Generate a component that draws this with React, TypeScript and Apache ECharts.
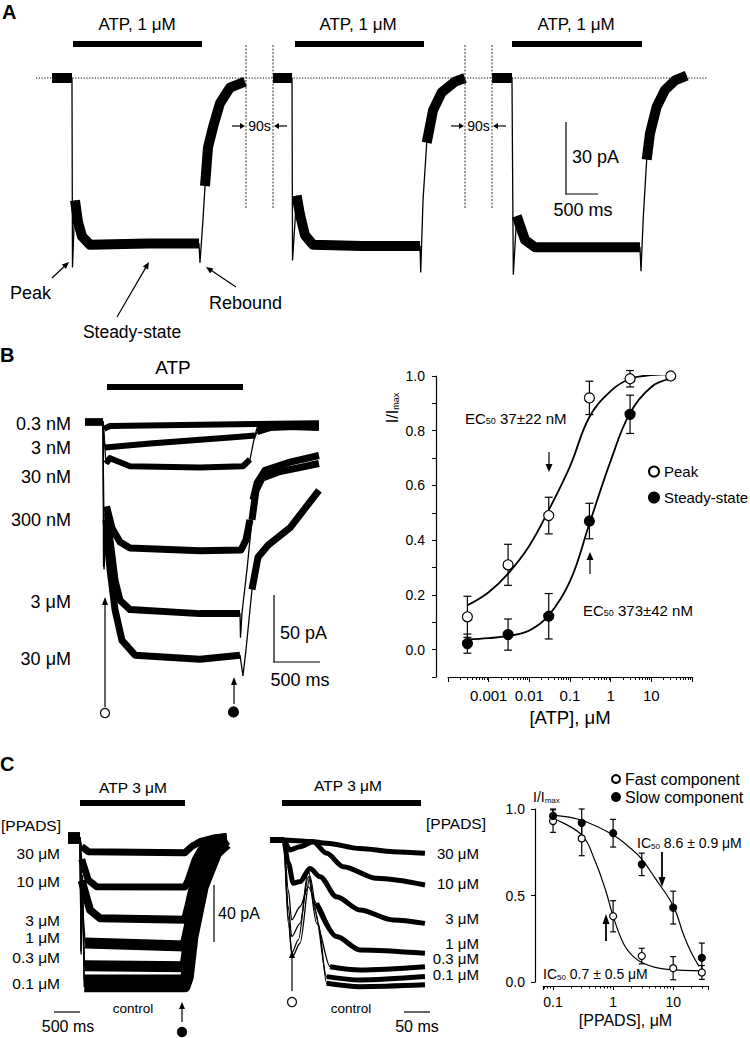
import React, { useEffect, useRef } from 'react';
import * as echarts from 'echarts';

const FF = '"Liberation Sans", Arial, Helvetica, sans-serif';

// ---------- Panel A: three responses to ATP 1 µM  [time ms, current pA, noisy segment flag]
const traceA1 = [[0,0,1],[312,0,0],[320,-79,0],[359,-51,1],[406,-60,1],[469,-66,1],[594,-69.5,1],[1500,-69,1],[2297,-69,0],[2312,-77,0],[2359,-59,0],[2391,-45,1],[2437,-29,1],[2516,-20.5,1],[2625,-10.5,1],[2781,-4,1],[3016,-1.5,0]];
const traceA2 = [[0,0,1],[297,0,0],[305,-76,0],[370,-49,1],[422,-57,1],[500,-65.5,1],[625,-69.5,1],[1400,-70,1],[2297,-70,0],[2308,-81,0],[2344,-51,0],[2402,-27,1],[2500,-13.5,1],[2636,-6,1],[2844,-1.5,1],[3000,0,0]];
const traceA3 = [[0,0,1],[312,0,0],[333,-82,0],[386,-57.5,1],[516,-67.5,1],[672,-70.5,1],[1500,-70.5,1],[2312,-70.5,0],[2328,-80.5,0],[2364,-58,0],[2417,-34,1],[2469,-23,1],[2573,-12,1],[2703,-5,1],[2859,-1,1],[3042,1,0]];

// ---------- Panel B traces (ATP concentrations)
const labelsB = ['0.3 nM', '3 nM', '30 nM', '300 nM', '3 μM', '30 μM'];
const traceB03 = [[0,0,1],[196,0,0],[207,-5,1],[272,-3,1],[1250,-2,1],[2543,-1,0]];
const traceB3n = [[0,0,1],[196,0,0],[217,-19,1],[707,-16,1],[1685,-11,1],[1848,-10,0],[1870,-4.5,1],[1902,-3,1],[2543,-4.5,0]];
const traceB30n = [[0,0,1],[196,0,0],[228,-31,1],[272,-27,1],[489,-33,1],[1250,-34,1],[1717,-33,1],[1793,-28,0],[1837,-13,0],[1870,-7.5,1],[2011,-4.5,1],[2543,-3,0]];
const traceB300n = [[0,0,1],[196,0,0],[201,-108,0],[234,-63,1],[293,-79,1],[380,-89.5,1],[489,-94,1],[1250,-96,1],[1696,-95.5,1],[1750,-88,1],[1793,-73,0],[1826,-58,1],[1870,-45.5,1],[1957,-36,1],[2228,-30,1],[2543,-25,0]];
const traceB3u = [[0,0,1],[196,0,0],[207,-110,0],[245,-68,1],[272,-88,1],[326,-118,1],[380,-133,1],[489,-140,1],[1250,-143,1],[1685,-143,0],[1690,-161,0],[1707,-142,0],[1761,-110,0],[1815,-73,1],[1859,-51,1],[1924,-42,1],[2120,-37,1],[2543,-31,0]];
const traceB30u = [[0,0,1],[196,0,0],[207,-107,0],[228,-73,1],[272,-110,1],[326,-140,1],[402,-163,1],[544,-174,1],[1250,-177,1],[1685,-174,0],[1717,-189.5,0],[1750,-170,0],[1815,-125,1],[1880,-101,1],[1989,-92,1],[2228,-79,1],[2543,-51,0]];

// ---------- Panel B concentration-response
const atpConc = [0.0003, 0.003, 0.03, 0.3, 3, 30];
const peakMean = [0.12, 0.31, 0.49, 0.92, 0.99, 1.0];
const peakErr = [0.075, 0.075, 0.067, 0.061, 0.03, 0];
const steadyConc = [0.0003, 0.003, 0.03, 0.3, 3];
const steadyMean = [0.022, 0.055, 0.122, 0.47, 0.86];
const steadyErr = [0.035, 0.057, 0.083, 0.065, 0.07];
const peakFitX = [0.0003, 0.001, 0.003, 0.01, 0.03, 0.1, 0.3, 1, 3, 10, 30];
const peakFitY = [0.162, 0.21, 0.278, 0.38, 0.51, 0.67, 0.85, 0.945, 0.99, 1.003, 1.007];
const steadyFitX = [0.0003, 0.001, 0.003, 0.01, 0.03, 0.1, 0.3, 1, 3, 10, 30];
const steadyFitY = [0.037, 0.042, 0.05, 0.07, 0.125, 0.25, 0.46, 0.69, 0.865, 0.96, 0.99];

// ---------- Panel C traces (PPADS), slow time base
const labelsC = ['30 μM', '10 μM', '3 μM', '1 μM', '0.3 μM', '0.1 μM'];
const traceC30 = [[0,0,1],[231,0,0],[263,-6,1],[390,-9.6,1],[2250,-10.3,1],[2379,-6,1],[2538,-2.6,1],[2794,0,1],[3052,1,0]];
const traceC10 = [[0,0,1],[231,0,0],[263,-15,1],[390,-29.6,1],[552,-34.3,1],[2250,-34.5,1],[2313,-29.6,1],[2442,-15.5,1],[2602,-5,1],[2859,0,1],[3052,1,0]];
const traceC3 = [[0,0,1],[231,0,0],[263,-30,1],[423,-50.7,1],[615,-56.5,1],[2250,-57.5,1],[2313,-48.4,1],[2475,-22.5,1],[2667,-8.4,1],[2987,0,1],[3052,0.5,0]];
const traceC1 = [[0,0,1],[231,0,0],[250,-55,0],[275,-45,0],[330,-74,1],[2250,-76,1],[2346,-60,1],[2538,-27,1],[2794,-8.4,1],[3052,-1.2,0]];
const traceC03 = [[0,0,1],[231,0,0],[250,-68,0],[275,-40,0],[320,-90,1],[2250,-90.6,1],[2283,-82,1],[2404,-48.4,1],[2602,-20.2,1],[2859,-6,1],[3052,-3,0]];
const traceC01 = [[0,0,1],[231,0,0],[250,-80,0],[278,-30,0],[310,-100,1],[2250,-100,1],[2283,-95,1],[2379,-65,1],[2538,-31.7,1],[2794,-10.6,1],[3052,-4,0]];
const traceCctl = [[0,0,1],[231,0,0],[252,-82,0],[280,-26,0],[312,-104.7,1],[2250,-104.7,1],[2313,-98,1],[2404,-69.5,1],[2602,-34.3,1],[2859,-10.6,1],[3052,-4,0]];

// ---------- Panel C traces, fast time base
const traceM30 = [[0,0,1],[26,0,1],[77,-1,1],[109,-2.3,1],[173,-6,1],[237,-8.2,1],[298,-9.4,0]];
const traceM10 = [[0,0,1],[26,0,1],[38.5,-7,1],[57.7,-4.7,1],[83,-1.2,1],[109,-9.4,1],[141,-18.8,1],[205,-27,1],[298,-31.7,0]];
const traceM3 = [[0,0,1],[26,0,1],[35.3,-16.4,1],[44.9,-30.5,1],[57.7,-29.3,1],[76.9,-20,1],[96.2,-25.8,1],[128,-40,1],[173,-49.3,1],[237,-56.3,1],[298,-58.7,0]];
const traceM1 = [[0,0,1],[26,0,0],[35.3,-35.2,0],[41.7,-56.3,0],[57.7,-47,0],[73.7,-33,0],[89.7,-44.6,1],[128,-68,1],[173,-77.4,1],[298,-79.8,0]];
const traceM03 = [[0,0,1],[26,0,0],[35.3,-47,0],[41.7,-68,0],[57.7,-58.7,0],[73.7,-25.8,0],[89.7,-58.7,0],[115.4,-89.2,1],[173,-91.5,1],[298,-89.2,0]];
const traceM01 = [[0,0,1],[26,0,0],[35.3,-54,0],[41.7,-79.8,0],[54.5,-70.4,0],[73.7,-21.1,0],[86.5,-49.3,0],[109,-96.2,1],[173,-98.6,1],[298,-96.2,0]];
const traceMctl = [[0,0,1],[26,0,0],[35.3,-58.7,0],[43,-82.1,0],[57.7,-72.7,0],[76.9,-25.8,0],[92.9,-58.7,0],[109,-100.9,1],[173,-103.3,1],[298,-102,0]];

// ---------- Panel C inhibition curves
const ppadsConc = [0.1, 0.3, 1, 3, 10, 30];
const fastMean = [0.93, 0.83, 0.38, 0.15, 0.08, 0.055];
const fastErr = [0.065, 0.1, 0.09, 0.045, 0.067, 0.04];
const slowMean = [0.96, 0.92, 0.86, 0.68, 0.43, 0.14];
const slowErr = [0.04, 0.08, 0.08, 0.065, 0.095, 0.085];
const fastFitX = [0.1, 0.3, 0.5, 0.75, 1, 1.5, 2.2, 3.2, 5, 8, 30];
const fastFitY = [0.945, 0.85, 0.7, 0.53, 0.38, 0.22, 0.145, 0.108, 0.085, 0.073, 0.064];
const slowFitX = [0.1, 0.3, 1, 2, 3, 5, 10, 15, 20, 27];
const slowFitY = [0.965, 0.935, 0.85, 0.77, 0.71, 0.6, 0.44, 0.27, 0.17, 0.09];

// ---------- helpers
const BLACK = '#000';

function traceSeries(pts: number[][], idx: number, band: number, smooth = false) {
  const thin: any = {
    type: 'line', xAxisIndex: idx, yAxisIndex: idx, silent: true, symbol: 'none', showSymbol: false,
    data: pts.map((p) => [p[0], p[1]]), lineStyle: { color: BLACK, width: 1.3 },
    smooth: smooth ? 0.3 : false, smoothMonotone: 'x', z: 3, connectNulls: false,
  };
  const bd: any[] = [];
  for (let i = 0; i < pts.length - 1; i++) {
    if (pts[i][2]) {
      if (i === 0 || !pts[i - 1][2]) {
        if (bd.length) bd.push(['-', '-']);
        bd.push([pts[i][0], pts[i][1]]);
      }
      bd.push([pts[i + 1][0], pts[i + 1][1]]);
    }
  }
  const thick = { ...thin, data: bd, lineStyle: { color: BLACK, width: band, cap: 'butt', join: 'round' } };
  return [thin, thick];
}

function errSeries(xs: number[], ms: number[], es: number[], idx: number, cap: number) {
  const data = xs.map((x, i) => [x, ms[i] - es[i], ms[i] + es[i]]).filter((_, i) => es[i] > 0);
  return {
    type: 'custom', xAxisIndex: idx, yAxisIndex: idx, silent: true, z: 2, data,
    encode: { x: 0, y: [1, 2] },
    renderItem: (_p: any, api: any) => {
      const lo = api.coord([api.value(0), api.value(1)]);
      const hi = api.coord([api.value(0), api.value(2)]);
      const st = { stroke: BLACK, lineWidth: 1.2 };
      return {
        type: 'group', children: [
          { type: 'line', shape: { x1: lo[0], y1: lo[1], x2: hi[0], y2: hi[1] }, style: st },
          { type: 'line', shape: { x1: lo[0] - cap, y1: lo[1], x2: lo[0] + cap, y2: lo[1] }, style: st },
          { type: 'line', shape: { x1: hi[0] - cap, y1: hi[1], x2: hi[0] + cap, y2: hi[1] }, style: st },
        ],
      };
    },
  };
}

function scatterSeries(name: string, xs: number[], ms: number[], idx: number, size: number, filled: boolean) {
  return {
    name, type: 'scatter', xAxisIndex: idx, yAxisIndex: idx, silent: true, z: 5, symbol: 'circle', symbolSize: size,
    data: xs.map((x, i) => [x, ms[i]]),
    itemStyle: { color: filled ? BLACK : '#fff', borderColor: BLACK, borderWidth: 1.2, opacity: 1 },
  };
}

function fitSeries(xs: number[], ys: number[], idx: number, width: number) {
  return {
    type: 'line', xAxisIndex: idx, yAxisIndex: idx, silent: true, symbol: 'none', showSymbol: false, z: 3,
    smooth: 0.4, data: xs.map((x, i) => [x, ys[i]]), lineStyle: { color: BLACK, width },
  };
}

const txt = (text: string, x: number, y: number, size: number, align = 'left', weight = 'normal') => ({
  type: 'text', x, y, silent: true, z: 10,
  style: { text, font: `${weight} ${size}px ${FF}`, fill: BLACK, textAlign: align, textVerticalAlign: 'middle' },
});
const subTxt = (main: string, sub: string, rest: string, x: number, y: number, size: number, subSize: number, align = 'left', rotation = 0) => ({
  type: 'text', x, y, rotation, silent: true, z: 10,
  style: {
    text: `{a|${main}}{s|${sub}}{a|${rest}}`,
    font: `${size}px ${FF}`, fill: BLACK, textAlign: align, textVerticalAlign: 'middle',
    rich: {
      a: { fontSize: size, fontFamily: FF, fill: BLACK, color: BLACK },
      s: { fontSize: subSize, fontFamily: FF, fill: BLACK, color: BLACK, verticalAlign: 'bottom' },
    },
  },
});
const ln = (x1: number, y1: number, x2: number, y2: number, w = 1.2, dash?: number[], color = BLACK) => ({
  type: 'line', silent: true, z: 10, shape: { x1, y1, x2, y2 }, style: { stroke: color, lineWidth: w, lineDash: dash },
});
const bar = (x: number, y: number, w: number, h: number) => ({
  type: 'rect', silent: true, z: 10, shape: { x, y, width: w, height: h }, style: { fill: BLACK },
});
const dot = (cx: number, cy: number, r: number, filled: boolean) => ({
  type: 'circle', silent: true, z: 10, shape: { cx, cy, r }, style: { fill: filled ? BLACK : '#fff', stroke: BLACK, lineWidth: 1.2 },
});
const arrow = (x1: number, y1: number, x2: number, y2: number, len = 7, hw = 3.5, w = 1.2) => {
  const dx = x2 - x1, dy = y2 - y1; const d = Math.hypot(dx, dy);
  const ux = dx / d, uy = dy / d; const px = -uy, py = ux;
  const bx = x2 - ux * len, by = y2 - uy * len;
  return [
    ln(x1, y1, bx + ux * 0.5, by + uy * 0.5, w),
    { type: 'polygon', silent: true, z: 10, shape: { points: [[x2, y2], [bx + px * hw, by + py * hw], [bx - px * hw, by - py * hw]] }, style: { fill: BLACK } },
  ];
};

function hiddenX(idx: number, min: number, max: number, type = 'value') { return { gridIndex: idx, type, min, max, show: false }; }
function hiddenY(idx: number, min: number, max: number) { return { gridIndex: idx, type: 'value', min, max, show: false }; }

const axisLineStyle = { color: BLACK, width: 1.2 };

export default function App() {
  const ref = useRef<HTMLDivElement>(null);
  useEffect(() => {
    if (!ref.current) return;
    const chart = echarts.init(ref.current, undefined, { renderer: 'svg' });

    const bTraces: [number[][], number][] = [[traceB03, 6], [traceB3n, 6], [traceB30n, 6], [traceB300n, 7], [traceB3u, 7], [traceB30u, 7]];
    const cTraces: [number[][], number][] = [[traceC30, 7], [traceC10, 7], [traceC3, 8], [traceC1, 11], [traceC03, 11], [traceC01, 11], [traceCctl, 11]];
    const mTraces = [traceM30, traceM10, traceM3, traceM1, traceM03, traceM01, traceMctl];

    const series: any[] = [
      ...traceSeries(traceA1, 0, 10), ...traceSeries(traceA2, 1, 10), ...traceSeries(traceA3, 2, 10),
      ...bTraces.flatMap(([t, w]) => traceSeries(t, 3, w)),
      ...cTraces.flatMap(([t, w]) => traceSeries(t, 5, w)),
      ...mTraces.flatMap((t) => traceSeries(t, 6, 5, true)),
      errSeries(atpConc, peakMean, peakErr, 4, 4),
      errSeries(steadyConc, steadyMean, steadyErr, 4, 4),
      fitSeries(peakFitX, peakFitY, 4, 1.8),
      fitSeries(steadyFitX, steadyFitY, 4, 1.8),
      scatterSeries('Peak', atpConc, peakMean, 4, 10, false),
      scatterSeries('Steady-state', steadyConc, steadyMean, 4, 10, true),
      errSeries(ppadsConc, fastMean, fastErr, 7, 3),
      errSeries(ppadsConc, slowMean, slowErr, 7, 3),
      fitSeries(fastFitX, fastFitY, 7, 1.2),
      fitSeries(slowFitX, slowFitY, 7, 1.2),
      scatterSeries('Fast component', ppadsConc, fastMean, 7, 7, false),
      scatterSeries('Slow component', ppadsConc, slowMean, 7, 7, true),
    ];

    const labelYB = [424, 448, 477, 520, 602, 659];
    const labelYCL = [853, 881, 920, 937, 957, 983];
    const labelYCM = [853, 883, 918, 943, 958.5, 974];

    const elements: any[] = [
      // Panel A
      txt('A', 2, 12, 20, 'left', 'bold'),
      txt('ATP, 1 μM', 137, 24, 17, 'center'), txt('ATP, 1 μM', 358, 24, 17, 'center'), txt('ATP, 1 μM', 576, 24, 17, 'center'),
      bar(73, 41, 129, 6), bar(295, 41, 129, 6), bar(512, 41, 130, 6),
      ln(36, 78, 707, 78, 1, [1.2, 1.6]),
      ln(246, 45, 246, 209, 1, [2, 1.5], '#333'), ln(273, 45, 273, 209, 1, [2, 1.5], '#333'),
      ln(465, 45, 465, 209, 1, [2, 1.5], '#333'), ln(492, 45, 492, 209, 1, [2, 1.5], '#333'),
      txt('90s', 259.5, 126, 14, 'center'), txt('90s', 478.5, 126, 14, 'center'),
      ...arrow(232, 126, 245, 126, 5, 3), ...arrow(287, 126, 274, 126, 5, 3),
      ...arrow(451, 126, 464, 126, 5, 3), ...arrow(506, 126, 493, 126, 5, 3),
      ln(566, 122, 566, 194.6, 1.2), ln(565.4, 194, 598, 194, 1.2),
      txt('30 pA', 572, 157, 18), txt('500 ms', 583, 210, 18, 'center'),
      txt('Peak', 10, 293, 18), txt('Steady-state', 132, 332, 17.5, 'center'), txt('Rebound', 209, 303, 18),
      ...arrow(52, 278, 69, 262, 7, 3), ...arrow(117, 317, 149, 262, 7, 3), ...arrow(236, 287, 206, 267, 7, 3),
      // Panel B
      txt('B', 0, 354.5, 20, 'left', 'bold'),
      txt('ATP', 173, 367, 19, 'center'), bar(107, 384, 136, 6),
      ...labelsB.map((s, i) => txt(s, 71, labelYB[i], 18, 'right')),
      ln(274, 595, 274, 662.6, 1.2), ln(273.4, 662, 320, 662, 1.2),
      txt('50 pA', 280, 633, 18), txt('500 ms', 300, 680, 18, 'center'),
      ...arrow(105, 707, 105, 597, 8, 3), dot(105, 713, 4.5, false),
      ...arrow(234, 704, 234, 677, 8, 3), dot(233.5, 712, 5, true),
      subTxt('I/I', 'max', '', 392, 408, 16, 9, 'center', Math.PI / 2),
      subTxt('EC', '50', ' 37±22 nM', 465, 418, 15, 9),
      subTxt('EC', '50', ' 373±42 nM', 583, 610, 15, 9),
      ...arrow(549, 452, 549, 472, 8, 3.5), ...arrow(590, 574, 590, 552, 8, 3.5),
      // Panel C
      txt('C', 0, 763.5, 20, 'left', 'bold'),
      txt('ATP 3 μM', 133, 787, 15.5, 'center'), bar(80, 800, 105, 6),
      txt('ATP 3 μM', 348, 785, 15.5, 'center'), bar(282, 800, 139, 6),
      txt('[PPADS]', 61, 825, 15.5, 'right'), txt('[PPADS]', 426, 823, 15.5),
      ...labelsC.map((s, i) => txt(s, 60, labelYCL[i], 15.5, 'right')),
      ...labelsC.map((s, i) => txt(s, 479, labelYCM[i], 15, 'right')),
      ln(214, 885, 214, 942, 1.2), txt('40 pA', 218, 913, 16),
      ln(54, 1012, 80, 1012, 1.2), txt('500 ms', 68, 1026, 16, 'center'),
      txt('control', 133, 1008, 13.5, 'center'),
      ...arrow(182, 1022, 182, 1002, 7, 3), dot(182, 1032, 4.5, true),
      ln(404, 1012, 430, 1012, 1.2), txt('50 ms', 417, 1026, 16, 'center'),
      txt('control', 351, 1008, 13.5, 'center'),
      ...arrow(292, 991, 292, 950, 8, 3), dot(292, 1002, 4.5, false),
      subTxt('I/I', 'max', '', 533, 797, 14, 8),
      subTxt('IC', '50', ' 8.6 ± 0.9 μM', 637, 843, 14, 8),
      subTxt('IC', '50', ' 0.7 ± 0.5 μM', 543, 974, 14, 8),
      ...arrow(662, 852, 662, 887, 10, 3.5, 1.8), ...arrow(606, 941, 606, 914, 10, 3.5, 1.8),
    ];

    const option: any = {
      animation: false,
      backgroundColor: '#fff',
      textStyle: { fontFamily: FF, color: BLACK },
      grid: [
        { left: 52, top: 42, width: 195.2, height: 252 },
        { left: 273, top: 42, width: 192, height: 252 },
        { left: 492, top: 42, width: 195.2, height: 252 },
        { left: 85, top: 408.6, width: 234.6, height: 281.4 },
        { left: 448, top: 376, width: 244, height: 301 },
        { left: 68, top: 823.8, width: 159.1, height: 184.6 },
        { left: 270, top: 825.8, width: 156, height: 184.6 },
        { left: 543, top: 809, width: 165, height: 173 },
        { left: 448, top: 577, width: 244, height: 100 }, // holds the visible [ATP] axis of panel B
      ].map((g) => ({ ...g, containLabel: false, outerBoundsMode: 'none' })),
      xAxis: [
        hiddenX(0, 0, 3050), hiddenX(1, 0, 3000), hiddenX(2, 0, 3050), hiddenX(3, 0, 2550),
        { gridIndex: 4, type: 'log', logBase: 10, min: 0.0001, max: 100, show: false },
        hiddenX(5, 0, 3060), hiddenX(6, 0, 300),
        {
          gridIndex: 7, type: 'log', logBase: 10, min: 0.068, max: 38, offset: 4,
          axisLine: { show: true, onZero: false, lineStyle: axisLineStyle },
          axisTick: { show: true, length: 4, lineStyle: { color: BLACK, width: 1 } },
          minorTick: { show: true, splitNumber: 9, length: 2.5, lineStyle: { color: BLACK, width: 1 } },
          axisLabel: { color: BLACK, fontSize: 14, fontFamily: FF, margin: 9, showMinLabel: false, showMaxLabel: false, formatter: (v: number) => String(v) },
          splitLine: { show: false }, minorSplitLine: { show: false },
          name: '[PPADS], μM', nameLocation: 'middle', nameGap: 26,
          nameTextStyle: { color: BLACK, fontSize: 16, fontFamily: FF },
        },
        {
          gridIndex: 8, type: 'log', logBase: 10, min: 0.0001, max: 100, position: 'bottom',
          axisLine: { show: true, onZero: false, lineStyle: axisLineStyle },
          axisTick: { show: true, length: 5, lineStyle: { color: BLACK, width: 1 } },
          minorTick: { show: true, splitNumber: 9, length: 3, lineStyle: { color: BLACK, width: 1 } },
          axisLabel: { color: BLACK, fontSize: 15, fontFamily: FF, margin: 11, showMinLabel: false, showMaxLabel: false, formatter: (v: number) => String(v) },
          splitLine: { show: false }, minorSplitLine: { show: false },
          name: '[ATP], μM', nameLocation: 'middle', nameGap: 31,
          nameTextStyle: { color: BLACK, fontSize: 18.5, fontFamily: FF },
        },
      ],
      yAxis: [
        hiddenY(0, -90, 15), hiddenY(1, -90, 15), hiddenY(2, -90, 15), hiddenY(3, -200, 10),
        {
          gridIndex: 4, type: 'value', min: -0.1, max: 1.0, interval: 0.1, offset: 12,
          axisLine: { show: true, onZero: false, lineStyle: axisLineStyle },
          axisTick: { show: true, length: 4, lineStyle: { color: BLACK, width: 1 } },
          axisLabel: {
            color: BLACK, fontSize: 14, fontFamily: FF, margin: 11,
            formatter: (v: number) => { const k = Math.round(v * 10); return k >= 0 && k % 2 === 0 ? (k / 10).toFixed(1) : ''; },
          },
          splitLine: { show: false },
        },
        hiddenY(5, -120, 10), hiddenY(6, -120, 10),
        {
          gridIndex: 7, type: 'value', min: 0, max: 1.0, interval: 0.5, offset: 8,
          axisLine: { show: true, onZero: false, lineStyle: axisLineStyle },
          axisTick: { show: true, length: 4, lineStyle: { color: BLACK, width: 1 } },
          axisLabel: { color: BLACK, fontSize: 14, fontFamily: FF, margin: 10, formatter: (v: number) => v.toFixed(1) },
          splitLine: { show: false },
        },
        hiddenY(8, 0, 1),
      ],
      legend: [
        {
          data: ['Peak', 'Steady-state'], orient: 'vertical', left: 648, top: 464, itemWidth: 10, itemHeight: 10,
          itemGap: 11, icon: 'circle', selectedMode: false, padding: 0,
          textStyle: { color: BLACK, fontSize: 15, fontFamily: FF },
        },
        {
          data: ['Fast component', 'Slow component'], orient: 'vertical', left: 611, top: 771, itemWidth: 8, itemHeight: 8,
          itemGap: 2, icon: 'circle', selectedMode: false, padding: 0,
          textStyle: { color: BLACK, fontSize: 16, fontFamily: FF },
        },
      ],
      series,
      graphic: { elements },
    };

    chart.setOption(option);
    return () => chart.dispose();
  }, []);

  return <div ref={ref} style={{ position: 'absolute', left: 0, top: 0, width: 750, height: 1038, background: '#fff' }} />;
}
